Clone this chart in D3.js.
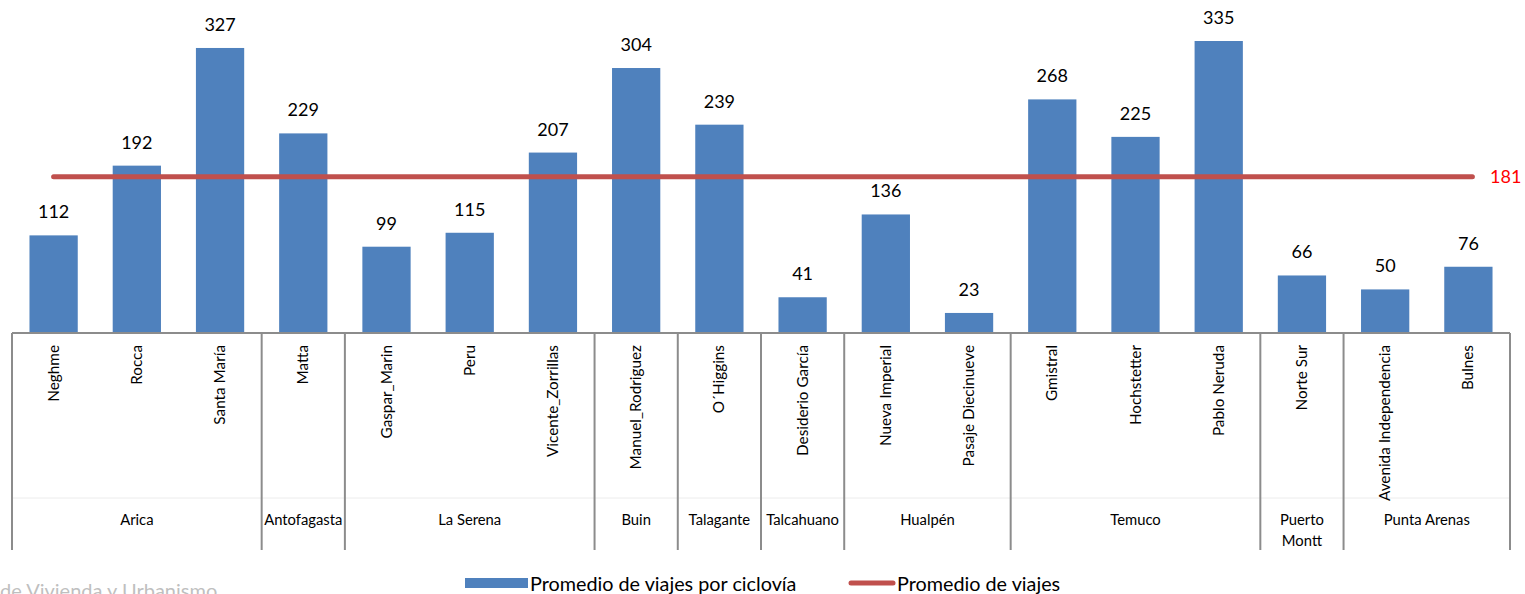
<!DOCTYPE html>
<html>
<head>
<meta charset="utf-8">
<script src="https://cdn.jsdelivr.net/npm/d3@7"></script>
<style>
  body { margin: 0; background: #fff; }
  svg { display: block; font-family: Lato, "Open Sans", sans-serif; }
</style>
</head>
<body>
<svg id="chart" width="1525" height="594"></svg>
<script>
var categories = ["Neghme", "Rocca", "Santa María", "Matta", "Gaspar_Marin", "Peru",
    "Vicente_Zorrillas", "Manuel_Rodriguez", "O´Higgins", "Desiderio García",
    "Nueva Imperial", "Pasaje Diecinueve", "Gmistral", "Hochstetter", "Pablo Neruda",
    "Norte Sur", "Avenida Independencia", "Bulnes"];
var tripsPerLane = [112, 192, 327, 229, 99, 115, 207, 304, 239, 41, 136, 23, 268, 225, 335, 66, 50, 76];
var cities = ["Arica", "Antofagasta", "La Serena", "Buin", "Talagante", "Talcahuano",
    "Hualpén", "Temuco", "Puerto Montt", "Punta Arenas"];
var citySizes = [3, 1, 3, 1, 1, 1, 2, 3, 1, 2];
var overallAverage = 181;

var svg = d3.select("#chart"),
    left = 12, right = 1510, baseY = 333;

var x = d3.scaleBand()
    .domain(categories)
    .range([left, right])
    .paddingInner(0.42)
    .paddingOuter(0.21);
var step = x.step();

var y = d3.scaleLinear()
    .domain([0, 335])
    .range([baseY, 41]);

// bars
svg.append("g")
    .selectAll("rect")
    .data(tripsPerLane)
    .enter()
    .append("rect")
    .attr("x", function (d, i) { return x(categories[i]); })
    .attr("width", x.bandwidth())
    .attr("y", function (d) { return y(d); })
    .attr("height", function (d) { return baseY - y(d); })
    .attr("fill", "#4F81BD");

// value labels
svg.append("g")
    .selectAll("text")
    .data(tripsPerLane)
    .enter()
    .append("text")
    .attr("x", function (d, i) { return x(categories[i]) + x.bandwidth() / 2; })
    .attr("y", function (d) { return y(d) - 17; })
    .attr("text-anchor", "middle")
    .attr("font-size", "18px")
    .attr("fill", "#000")
    .text(function (d) { return d; });

// average line
var lastCenter = x(categories[categories.length - 1]) + x.bandwidth() / 2;
svg.append("line")
    .attr("x1", x(categories[0]) + x.bandwidth() / 2)
    .attr("x2", lastCenter + 4)
    .attr("y1", y(overallAverage) + 1.5)
    .attr("y2", y(overallAverage) + 1.5)
    .attr("stroke", "#C0504D")
    .attr("stroke-width", 5)
    .attr("stroke-linecap", "round");

svg.append("text")
    .attr("x", 1490)
    .attr("y", y(overallAverage) + 8)
    .attr("font-size", "18px")
    .attr("fill", "#FF0000")
    .text(overallAverage);

// axis line and category labels
svg.append("line")
    .attr("x1", left).attr("x2", right)
    .attr("y1", baseY).attr("y2", baseY)
    .attr("stroke", "#8c8c8c").attr("stroke-width", 2);

svg.append("line")
    .attr("x1", left).attr("x2", right)
    .attr("y1", 498).attr("y2", 498)
    .attr("stroke", "#ececec").attr("stroke-width", 1);

svg.append("g")
    .selectAll("text")
    .data(categories)
    .enter()
    .append("text")
    .attr("transform", function (d) {
        return "translate(" + (x(d) + x.bandwidth() / 2 + 5) + ",345) rotate(-90)";
    })
    .attr("text-anchor", "end")
    .attr("font-size", "15.3px")
    .attr("fill", "#000")
    .text(function (d) { return d; });

// city groups
var groups = [], start = 0;
cities.forEach(function (c, i) {
    groups.push({ name: c, start: start, end: start + citySizes[i] });
    start += citySizes[i];
});

var bounds = [0].concat(groups.map(function (g) { return g.end; }));
svg.append("g")
    .selectAll("line")
    .data(bounds)
    .enter()
    .append("line")
    .attr("x1", function (d) { return left + d * step; })
    .attr("x2", function (d) { return left + d * step; })
    .attr("y1", baseY)
    .attr("y2", 550)
    .attr("stroke", "#8c8c8c")
    .attr("stroke-width", 2);

svg.append("g")
    .selectAll("text")
    .data(groups)
    .enter()
    .append("text")
    .attr("x", function (g) { return left + (g.start + g.end) / 2 * step; })
    .attr("y", 525)
    .attr("text-anchor", "middle")
    .attr("font-size", "14.8px")
    .attr("fill", "#000")
    .each(function (g) {
        var t = d3.select(this);
        var words = g.end - g.start === 1 && g.name.length > 11 ? g.name.split(" ") : [g.name];
        words.forEach(function (w, k) {
            t.append("tspan")
                .attr("x", left + (g.start + g.end) / 2 * step)
                .attr("dy", k === 0 ? 0 : 21)
                .text(w);
        });
    });

// legend
var legend = svg.append("g");
legend.append("rect")
    .attr("x", 465).attr("y", 578).attr("width", 63).attr("height", 10)
    .attr("fill", "#4F81BD");
legend.append("text")
    .attr("x", 530).attr("y", 591)
    .attr("font-size", "19.8px")
    .text("Promedio de viajes por ciclovía");
legend.append("line")
    .attr("x1", 851).attr("x2", 893).attr("y1", 583).attr("y2", 583)
    .attr("stroke", "#C0504D").attr("stroke-width", 5).attr("stroke-linecap", "round");
legend.append("text")
    .attr("x", 897).attr("y", 591)
    .attr("font-size", "19.8px")
    .text("Promedio de viajes");

// source text, cut at the bottom as in the original
svg.append("text")
    .attr("x", 0).attr("y", 598)
    .attr("font-size", "20px")
    .attr("fill", "#bfbfbf")
    .text("de Vivienda y Urbanismo");
</script>
</body>
</html>
